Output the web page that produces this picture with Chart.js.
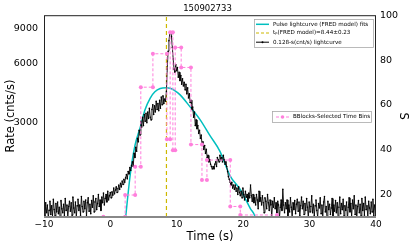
<!DOCTYPE html>
<html>
<head>
<meta charset="utf-8">
<script src="https://cdn.jsdelivr.net/npm/chart.js@4"></script>
<style>
  body { margin: 0; background: #fff; }
  canvas { display: block; }
</style>
</head>
<body>
<canvas id="lc" width="415" height="249"></canvas>
<script>
// 0.128 s light curve (cnts/s), first bin at t = -10 s
const lcStart = -10;
const lcBin = 0.128;
const lcRate = [
  1120, 1010, 1180, 1050, 1150, 990, 1080, 1200,
  1030, 1140, 1000, 1230, 1090, 1010, 1170, 1060,
  1190, 1040, 1120, 980, 1210, 1100, 1050, 1160,
  1010, 1240, 1080, 1150, 1000, 1130, 1200, 1070,
  1180, 1020, 1260, 1110, 1050, 1190, 1000, 1140,
  1230, 1080, 1150, 1020, 1270, 1130, 1060, 1200,
  1100, 1220, 1010, 1180, 1250, 1070, 1160, 1040,
  1210, 1120, 1280, 1060, 1190, 1240, 1090, 1170,
  1300, 1130, 1220, 1080, 1260, 1180, 1320, 1150,
  1240, 1300, 1190, 1350, 1220, 1280, 1330, 1250,
  1340, 1290, 1400, 1310, 1370, 1420, 1330, 1390,
  1450, 1380, 1480, 1420, 1520, 1460, 1550, 1500,
  1580, 1640, 1560, 1700, 1650, 1780, 1720, 1820,
  1900, 1800, 2100, 2000, 2250, 2150, 2500, 2400,
  2750, 2600, 3050, 2850, 3200, 2900, 3300, 3050,
  3350, 3000, 3400, 3150, 3550, 3200, 3100, 3500,
  3700, 3300, 3650, 3400, 3850, 3500, 3750, 3450,
  3900, 3550, 4050, 3700, 4100, 3750, 3950, 3850,
  4300, 5600, 6900, 7800, 8500, 8650, 8200, 7200,
  6300, 5600, 5400, 5900, 5500, 5700, 5100, 5400,
  4900, 5200, 4700, 5000, 4600, 4800, 4400, 4700,
  4200, 4500, 4000, 4200, 3800, 3900, 3500, 3600,
  3200, 3400, 2900, 3100, 2800, 2900, 2650, 2750,
  2500, 2600, 2300, 2400, 2200, 2300, 2100, 2200,
  2000, 2050, 1900, 1950, 1850, 1800, 1750, 1800,
  1750, 1850, 1900, 1800, 2000, 1950, 1900, 2050,
  1950, 2000, 1900, 2050, 1950, 1850, 1900, 1800,
  1700, 1600, 1550, 1500, 1450, 1500, 1400, 1450,
  1380, 1450, 1350, 1400, 1300, 1420, 1330, 1280,
  1350, 1250, 1400, 1300, 1220, 1350, 1260, 1300,
  1200, 1320, 1250, 1450, 1280, 1200, 1300, 1180,
  1250, 1150, 1300, 1220, 1100, 1350, 1200, 1250,
  1150, 1280, 1180, 1050, 1250, 1200, 1100, 1300,
  1180, 1080, 1220, 1150, 1000, 1200, 1120, 1250,
  1100, 1180, 1050, 1200, 1150, 980, 1120, 1220,
  1080, 1380, 1150, 1050, 1180, 1100, 1220, 1000,
  1150, 1060, 1250, 1120, 990, 1180, 1090, 1210,
  1040, 1160, 1230, 1070, 1190, 1010, 1140, 1260,
  1100, 1200, 1030, 1170, 1080, 1240, 1120, 990,
  1190, 1060, 1130, 1280, 1050, 1160, 1010, 1140,
  1220, 1080, 1000, 1170, 1110, 1250, 1040, 1150,
  1000, 1190, 1270, 1060, 1130, 980, 1200, 1090,
  1160, 1030, 1110, 1240, 990, 1150, 1070, 1210,
  1050, 1180, 1000, 1120, 1260, 1040, 1170, 1090,
  1230, 1010, 1140, 1080, 1190, 970, 1120, 1250,
  1060, 1170, 1000, 1220, 1100, 1280, 1030, 1150,
  990, 1130, 1210, 1050, 1160, 1010, 1240, 1080,
  1170, 1020, 1260, 1090, 1140, 1000, 1200, 1110,
  1040, 1190, 1060, 1230, 1010, 1150, 1090, 1180
];

// FRED pulse fit
const fredTime = [2.0, 2.3, 3.0, 3.7, 4.5, 5.2, 6.0, 6.7, 7.5, 8.4, 9.0, 9.8, 10.5, 12.0, 13.5, 15.0, 16.5, 18.0, 19.6, 21.1, 21.8, 22.2];
const fredRate = [800, 1000, 1650, 2300, 2850, 3480, 4000, 4300, 4470, 4510, 4480, 4340, 4150, 3610, 3110, 2580, 2150, 1620, 1370, 1100, 1000, 850];

const tPeak = 8.44;

// Bayesian blocks: edges (s) and level on right axis (S)
const bbEdges = [-1.06, 2.22, 3.73, 4.58, 6.40, 8.51, 9.00, 9.41, 9.76, 10.66, 12.13, 13.79, 14.54, 18.05, 19.56, 25.1];
const bbLevel = [10.1, 19.8, 32.4, 67.9, 82.8, 44.7, 92.4, 39.8, 85.6, 76.7, 42.3, 26.5, 35.4, 14.7, 10.9];

const xTicks = [-10, 0, 10, 20, 30, 40];
const rateTicks = [3000, 6000, 9000];
const sTicks = [20, 40, 60, 80, 100];

const FONT = "'DejaVu Sans', sans-serif";
const CYAN = '#00bfbf';
const GOLD = '#cdb800';
const PINK = '#ff7fdc';

const lcPoints = lcRate.map((v, i) => ({ x: lcStart + i * lcBin, y: v }));
const fredPoints = fredTime.map((t, i) => ({ x: t, y: fredRate[i] }));
const bbPoints = [];
bbLevel.forEach((s, i) => {
  bbPoints.push({ x: bbEdges[i], y: s });
  bbPoints.push({ x: bbEdges[i + 1], y: s });
});

const framePlugin = {
  id: 'frame',
  afterDatasetsDraw(chart) {
    const { ctx, chartArea: a } = chart;
    ctx.save();
    ctx.strokeStyle = '#222';
    ctx.lineWidth = 1;
    ctx.strokeRect(a.left + 0.5, a.top + 0.5, a.right - a.left - 1, a.bottom - a.top);
    ctx.strokeStyle = '#888';
    ctx.lineWidth = 2;
    ctx.beginPath();
    ctx.moveTo(a.left, a.bottom);
    ctx.lineTo(a.right, a.bottom);
    ctx.stroke();
    ctx.restore();
  }
};

function legendRow(ctx, x, y, label, color, dash, width, marker) {
  ctx.save();
  ctx.strokeStyle = color;
  ctx.lineWidth = width;
  ctx.setLineDash(dash);
  ctx.beginPath();
  ctx.moveTo(x, y);
  ctx.lineTo(x + 13, y);
  ctx.stroke();
  ctx.setLineDash([]);
  if (marker) {
    ctx.fillStyle = color;
    ctx.beginPath();
    ctx.arc(x + 6.5, y, marker, 0, Math.PI * 2);
    ctx.fill();
  }
  ctx.fillStyle = '#000';
  ctx.font = '5.6px ' + FONT;
  ctx.textBaseline = 'middle';
  ctx.fillText(label, x + 17, y);
  ctx.restore();
}

const legendPlugin = {
  id: 'boxes',
  afterDraw(chart) {
    const ctx = chart.ctx;
    ctx.save();
    ctx.fillStyle = '#fff';
    ctx.strokeStyle = '#aaa';
    ctx.lineWidth = 0.8;
    ctx.fillRect(254, 19, 120, 28);
    ctx.strokeRect(254.5, 19.5, 119, 28);
    ctx.fillRect(272, 111, 100, 12);
    ctx.strokeRect(272.5, 111.5, 99, 11);
    ctx.restore();
    legendRow(ctx, 256, 24.3, 'Pulse lightcurve (FRED model) fits', CYAN, [], 1.5, 0);
    legendRow(ctx, 256, 33, 'tₚ(FRED model)=8.44±0.23', GOLD, [3, 2], 1.2, 0);
    legendRow(ctx, 256, 42.2, '0.128-s(cnt/s) lightcurve', '#000', [], 1, 1);
    legendRow(ctx, 276, 117, 'BBlocks-Selected Time Bins', PINK, [3, 2], 1, 1.8);
  }
};

new Chart(document.getElementById('lc').getContext('2d'), {
  type: 'line',
  data: {
    datasets: [
      {
        label: 'BBlocks-Selected Time Bins',
        data: bbPoints,
        yAxisID: 'y2',
        borderColor: PINK,
        borderWidth: 1,
        borderDash: [3, 2],
        pointRadius: 2,
        pointBackgroundColor: PINK,
        pointBorderWidth: 0,
        order: 1
      },
      {
        label: '0.128-s(cnt/s) lightcurve',
        data: lcPoints,
        yAxisID: 'y',
        borderColor: '#000',
        borderWidth: 0.9,
        pointRadius: 0.8,
        pointBackgroundColor: '#000',
        pointBorderWidth: 0,
        order: 2
      },
      {
        label: 'tp',
        data: [{ x: tPeak, y: 1000 }, { x: tPeak, y: 10500 }],
        yAxisID: 'y',
        borderColor: GOLD,
        borderWidth: 1.2,
        borderDash: [4, 3],
        pointRadius: 0,
        order: 3
      },
      {
        label: 'Pulse lightcurve (FRED model) fits',
        data: fredPoints,
        yAxisID: 'y',
        borderColor: CYAN,
        borderWidth: 1.5,
        pointRadius: 0,
        cubicInterpolationMode: 'monotone',
        order: 4
      }
    ]
  },
  options: {
    responsive: false,
    animation: false,
    devicePixelRatio: 1,
    layout: { padding: 0 },
    plugins: {
      legend: { display: false },
      tooltip: { enabled: false },
      title: {
        display: true,
        text: '150902733',
        color: '#000',
        font: { family: FONT, size: 8.5, weight: 'normal', lineHeight: 1.2 },
        padding: { top: 4, bottom: 1 }
      }
    },
    scales: {
      x: {
        type: 'linear',
        min: -10,
        max: 40,
        afterFit(s) { s.height = 32; },
        afterBuildTicks(s) { s.ticks = xTicks.map(v => ({ value: v })); },
        ticks: {
          color: '#000',
          font: { family: FONT, size: 9 },
          padding: 2,
          maxRotation: 0,
          callback: v => (v < 0 ? '\u2212' + Math.abs(v) : String(v))
        },
        grid: { display: false, drawTicks: false },
        border: { display: false },
        title: {
          display: true,
          text: 'Time (s)',
          color: '#000',
          font: { family: FONT, size: 11.5 },
          padding: 5
        }
      },
      y: {
        type: 'logarithmic',
        position: 'left',
        min: 1000,
        max: 10500,
        afterFit(s) { s.width = 44; },
        afterBuildTicks(s) { s.ticks = rateTicks.map(v => ({ value: v })); },
        ticks: {
          color: '#000',
          font: { family: FONT, size: 9.5 },
          padding: 6,
          callback: v => String(v)
        },
        grid: { display: false, drawTicks: false },
        border: { display: false },
        title: {
          display: true,
          text: 'Rate (cnts/s)',
          color: '#000',
          font: { family: FONT, size: 11.5 },
          padding: 4
        }
      },
      y2: {
        type: 'linear',
        position: 'right',
        min: 10,
        max: 100,
        afterFit(s) { s.width = 39; },
        afterBuildTicks(s) { s.ticks = sTicks.map(v => ({ value: v })); },
        ticks: {
          color: '#000',
          font: { family: FONT, size: 9.5 },
          padding: 4
        },
        grid: { display: false, drawTicks: false },
        border: { display: false },
        title: {
          display: true,
          text: 'S',
          color: '#000',
          font: { family: FONT, size: 11.5 },
          padding: 5
        }
      }
    }
  },
  plugins: [framePlugin, legendPlugin]
});
</script>
</body>
</html>
